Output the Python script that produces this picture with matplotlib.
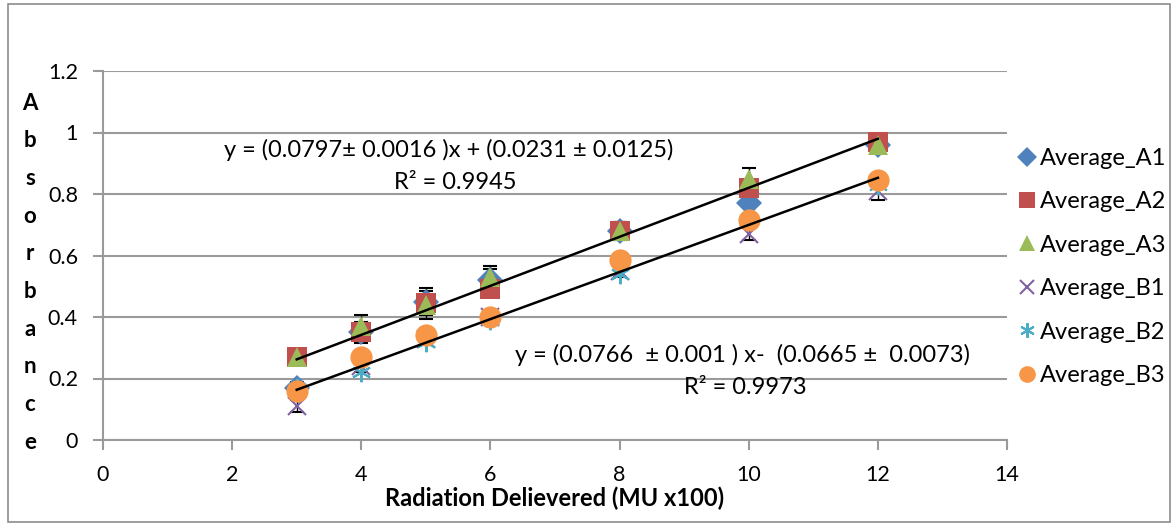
import matplotlib.pyplot as plt
from matplotlib.patches import Rectangle

plt.rcParams['font.family'] = ['Lato', 'DejaVu Sans']

dose = [3, 4, 5, 6, 8, 10, 12]
a1 = [0.17, 0.35, 0.45, 0.52, 0.68, 0.77, 0.96]
a2 = [0.27, 0.35, 0.445, 0.49, 0.68, 0.82, 0.97]
a3 = [0.27, 0.37, 0.44, 0.53, 0.68, 0.85, 0.96]
b1 = [0.11, 0.24, 0.33, 0.40, 0.55, 0.67, 0.81]
b2 = [0.17, 0.22, 0.32, 0.39, 0.54, 0.72, 0.83]
b3 = [0.16, 0.27, 0.34, 0.40, 0.585, 0.715, 0.845]
err_a = [0.02, 0.035, 0.045, 0.035, 0.03, 0.035, 0.02]
err_b = [0.02, 0.02, 0.02, 0.02, 0.02, 0.02, 0.03]

fit_a = (0.0797, 0.0231)
fit_b = (0.0766, -0.0665)

fig = plt.figure(figsize=(11.76, 5.26), dpi=100)
ax = fig.add_axes([103/1176, 1-440/526, 904/1176, 369/526])

# chart border
fig.patches.append(Rectangle((8/1176, 4/526), 1162/1176, 518/526, transform=fig.transFigure,
                             fill=False, edgecolor='#8c8c8c', lw=1.2))

series = [
    ('Average_A1', a1, 'D', '#4F81BD', 13, err_a),
    ('Average_A2', a2, 's', '#C0504D', 15, None),
    ('Average_A3', a3, '^', '#9BBB59', 15, err_a),
    ('Average_B1', b1, 'x', '#8064A2', 13, err_b),
    ('Average_B2', b2, (6, 2, 0), '#4BACC6', 14, None),
    ('Average_B3', b3, 'o', '#F79646', 16, None),
]

for name, vals, mk, col, ms, err in series:
    if err is not None:
        ax.errorbar(dose, vals, yerr=err, fmt='none', ecolor='black', elinewidth=1,
                    capsize=5, capthick=1.5, zorder=2)
    ax.plot(dose, vals, linestyle='none', marker=mk, color=col, markersize=ms,
            markeredgewidth=1.5 if mk in ('x', (6, 2, 0)) else 0, label=name, zorder=3)

for m, c in (fit_a, fit_b):
    xs = [dose[0], dose[-1]]
    ax.plot(xs, [m * x + c for x in xs], color='black', lw=1.8, zorder=4)

ax.set_xlim(0, 14)
ax.set_ylim(0, 1.2)
ax.set_xticks(range(0, 15, 2))
ax.set_yticks([0, 0.2, 0.4, 0.6, 0.8, 1, 1.2])
ax.set_yticklabels(['0', '0.2', '0.4', '0.6', '0.8', '1', '1.2'])
ax.grid(axis='y', color='#9a9a9a', lw=1.5)
ax.set_axisbelow(True)
for s in ('top', 'right'):
    ax.spines[s].set_visible(False)
ax.spines['left'].set_color('#9a9a9a')
ax.spines['bottom'].set_color('#9a9a9a')
ax.spines['left'].set_linewidth(1.5)
ax.spines['bottom'].set_linewidth(1.5)
ax.tick_params(axis='both', colors='#9a9a9a', labelcolor='black', labelsize=15.5,
               length=7, width=1.5)
ax.tick_params(axis='y', pad=11)
ax.tick_params(axis='x', pad=11)

ax.set_xlabel('Radiation Delievered (MU x100)', fontsize=17, fontweight='bold', labelpad=1)

for i, ch in enumerate('Absorbance'):
    fig.text(30/1176, 1 - (103 + i * 37.7)/526, ch, fontsize=16, fontweight='bold',
             ha='center', va='center')

ax.text(5.36, 0.943, 'y = (0.0797± 0.0016 )x + (0.0231 ± 0.0125)', fontsize=17, ha='center', va='center')
ax.text(5.45, 0.839, 'R² = 0.9945', fontsize=17, ha='center', va='center')
ax.text(9.91, 0.276, 'y = (0.0766  ± 0.001 ) x-  (0.0665 ±  0.0073)', fontsize=17, ha='center', va='center')
ax.text(9.95, 0.172, 'R² = 0.9973', fontsize=17, ha='center', va='center')

fig.legend(loc='upper left', bbox_to_anchor=(1003/1176, 1 - 136/526), frameon=False,
           fontsize=17, labelspacing=0.95, handletextpad=0.05, handlelength=1.0,
           markerscale=0.75, borderpad=0)

fig.savefig('out.png', dpi=100)
